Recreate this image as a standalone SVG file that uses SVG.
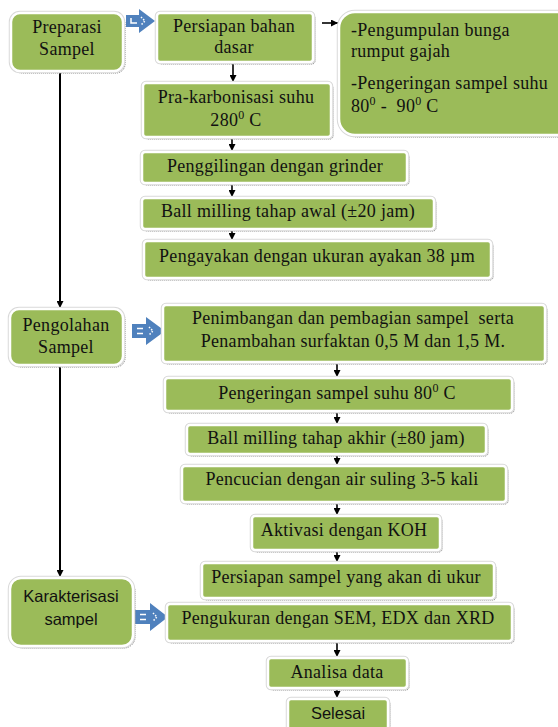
<svg xmlns="http://www.w3.org/2000/svg" width="558" height="727" viewBox="0 0 558 727">
<defs>
<style>
.sh{fill:none;stroke:#6f6f6f;stroke-width:1;stroke-dasharray:1 1}
.ol{fill:none;stroke:#d9d9d9;stroke-width:4.5}
.bx{fill:#9BBB59;stroke:#ffffff;stroke-width:2.5}
.t{font-family:'Liberation Serif','Times New Roman',serif;font-size:18px;letter-spacing:0.3px;fill:#111;text-anchor:middle}
.tl{font-family:'Liberation Serif','Times New Roman',serif;font-size:18px;letter-spacing:0.3px;fill:#111}
.s{font-family:'Liberation Sans',Arial,sans-serif;font-size:16.5px;fill:#111;text-anchor:middle}
.c{stroke:#000;stroke-width:1.6;fill:none;marker-end:url(#ah)}
.cl{stroke:#000;stroke-width:2;fill:none;marker-end:url(#ah)}
.ba{fill:#4F81BD}
.wm{stroke:#fff;stroke-width:1.5;fill:none}
.wd{stroke:#fff;stroke-width:1.5;fill:none;stroke-dasharray:1.5 1.5}
</style>
<marker id="ah" markerUnits="userSpaceOnUse" markerWidth="8" markerHeight="7" refX="7" refY="3.5" orient="auto">
<path d="M0,0 L7,3.5 L0,7 z" fill="#000"/>
</marker>
</defs>
<rect x="0" y="0" width="558" height="727" fill="#ffffff"/>

<g id="connectors">
<line class="c" x1="233" y1="63" x2="233" y2="82"/>
<line class="c" x1="232" y1="138" x2="232" y2="151"/>
<line class="c" x1="232" y1="184" x2="232" y2="197"/>
<line class="c" x1="232" y1="230" x2="232" y2="240"/>
<line class="cl" x1="60" y1="72" x2="60" y2="308"/>
<line class="cl" x1="60" y1="366" x2="60" y2="577"/>
<line class="c" x1="337" y1="363" x2="337" y2="377"/>
<line class="c" x1="337" y1="412" x2="337" y2="424"/>
<line class="c" x1="337" y1="455" x2="337" y2="465"/>
<line class="c" x1="337" y1="503" x2="337" y2="515"/>
<line class="c" x1="337" y1="551" x2="337" y2="562"/>
<line class="c" x1="337" y1="642" x2="337" y2="657"/>
<line class="c" x1="337" y1="689" x2="337" y2="698"/>
<line class="c" x1="322" y1="23" x2="338" y2="23"/>
<g id="blue1">
<polygon class="ba" points="126,15 139,15 139,9 155,21 139,33 139,27 126,27"/>
<path class="wm" d="M131,18 L131,23 L137,23"/>
<path class="wd" d="M141,17 L145,21 L141,25"/>
</g>
<g id="blue2">
<polygon class="ba" points="132,324 146,324 146,317 165,331 146,345 146,338 132,338"/>
<path class="wm" d="M137,328.5 L143,328.5 M137,333.5 L143,333.5"/>
<path class="wd" d="M149,327 L153,331 L149,335"/>
</g>
<g id="blue3">
<polygon class="ba" points="135,610 150,610 150,603 168,617 150,631 150,624 135,624"/>
<path class="wm" d="M140,614.5 L146,614.5 M140,619.5 L146,619.5"/>
<path class="wd" d="M153,613 L157,617 L153,621"/>
</g>
</g>

<g id="n-preparasi">
<rect class="sh" x="13" y="15" width="112" height="58" rx="9"/>
<rect class="ol" x="11" y="13" width="112" height="58" rx="9"/>
<rect class="bx" x="11" y="13" width="112" height="58" rx="9"/>
<text class="t" x="67" y="33">Preparasi</text>
<text class="t" x="67" y="55">Sampel</text>
</g>

<g id="n-persiapan-bahan">
<rect class="sh" x="159" y="15" width="156" height="49" rx="3"/>
<rect class="ol" x="157" y="13" width="156" height="49" rx="3"/>
<rect class="bx" x="157" y="13" width="156" height="49" rx="3"/>
<text class="t" x="234" y="32">Persiapan bahan</text>
<text class="t" x="234" y="53">dasar</text>
</g>

<g id="n-bahan-list">
<rect class="sh" x="341" y="14" width="240" height="123" rx="16"/>
<rect class="ol" x="339" y="12" width="240" height="123" rx="16"/>
<rect class="bx" x="339" y="12" width="240" height="123" rx="16"/>
<text class="tl" x="351" y="36">-Pengumpulan bunga</text>
<text class="tl" x="351" y="57">rumput gajah</text>
<text class="tl" x="351" y="89">-Pengeringan sampel suhu</text>
<text class="tl" x="351" y="112" xml:space="preserve">80<tspan font-size="12" dy="-7">0</tspan><tspan dy="7"> -  90</tspan><tspan font-size="12" dy="-7">0</tspan><tspan dy="7"> C</tspan></text>
</g>

<g id="n-prakarbonisasi">
<rect class="sh" x="145" y="85" width="188" height="54" rx="3"/>
<rect class="ol" x="143" y="83" width="188" height="54" rx="3"/>
<rect class="bx" x="143" y="83" width="188" height="54" rx="3"/>
<text class="t" x="236" y="103">Pra-karbonisasi suhu</text>
<text class="t" x="236" y="126">280<tspan font-size="12" dy="-7">0</tspan><tspan dy="7"> C</tspan></text>
</g>

<g id="n-penggilingan">
<rect class="sh" x="144" y="154" width="265" height="31" rx="3"/>
<rect class="ol" x="142" y="152" width="265" height="31" rx="3"/>
<rect class="bx" x="142" y="152" width="265" height="31" rx="3"/>
<text class="t" x="275" y="172">Penggilingan dengan grinder</text>
</g>

<g id="n-ballmill-awal">
<rect class="sh" x="144" y="200" width="292" height="31" rx="3"/>
<rect class="ol" x="142" y="198" width="292" height="31" rx="3"/>
<rect class="bx" x="142" y="198" width="292" height="31" rx="3"/>
<text class="t" x="288" y="217">Ball milling tahap awal (±20 jam)</text>
</g>

<g id="n-pengayakan">
<rect class="sh" x="146" y="243" width="347" height="37" rx="3"/>
<rect class="ol" x="144" y="241" width="347" height="37" rx="3"/>
<rect class="bx" x="144" y="241" width="347" height="37" rx="3"/>
<text class="t" x="317" y="262">Pengayakan dengan ukuran ayakan 38 µm</text>
</g>

<g id="n-pengolahan">
<rect class="sh" x="12" y="311" width="113" height="56" rx="9"/>
<rect class="ol" x="10" y="309" width="113" height="56" rx="9"/>
<rect class="bx" x="10" y="309" width="113" height="56" rx="9"/>
<text class="t" x="66" y="331">Pengolahan</text>
<text class="t" x="66" y="353">Sampel</text>
</g>

<g id="n-penimbangan">
<rect class="sh" x="165" y="307" width="382" height="57" rx="3"/>
<rect class="ol" x="163" y="305" width="382" height="57" rx="3"/>
<rect class="bx" x="163" y="305" width="382" height="57" rx="3"/>
<text class="t" x="353" y="324" xml:space="preserve">Penimbangan dan pembagian sampel  serta</text>
<text class="t" x="353" y="347">Penambahan surfaktan 0,5 M dan 1,5 M.</text>
</g>

<g id="n-pengeringan">
<rect class="sh" x="167" y="380" width="347" height="33" rx="3"/>
<rect class="ol" x="165" y="378" width="347" height="33" rx="3"/>
<rect class="bx" x="165" y="378" width="347" height="33" rx="3"/>
<text class="t" x="337" y="399">Pengeringan sampel suhu 80<tspan font-size="12" dy="-7">0</tspan><tspan dy="7"> C</tspan></text>
</g>

<g id="n-ballmill-akhir">
<rect class="sh" x="189" y="427" width="299" height="29" rx="3"/>
<rect class="ol" x="187" y="425" width="299" height="29" rx="3"/>
<rect class="bx" x="187" y="425" width="299" height="29" rx="3"/>
<text class="t" x="336" y="444">Ball milling tahap akhir (±80 jam)</text>
</g>

<g id="n-pencucian">
<rect class="sh" x="184" y="468" width="324" height="36" rx="3"/>
<rect class="ol" x="182" y="466" width="324" height="36" rx="3"/>
<rect class="bx" x="182" y="466" width="324" height="36" rx="3"/>
<text class="t" x="342" y="485">Pencucian dengan air suling 3-5 kali</text>
</g>

<g id="n-aktivasi">
<rect class="sh" x="254" y="518" width="188" height="34" rx="3"/>
<rect class="ol" x="252" y="516" width="188" height="34" rx="3"/>
<rect class="bx" x="252" y="516" width="188" height="34" rx="3"/>
<text class="t" x="344" y="536">Aktivasi dengan KOH</text>
</g>

<g id="n-persiapan-sampel">
<rect class="sh" x="204" y="565" width="292" height="35" rx="3"/>
<rect class="ol" x="202" y="563" width="292" height="35" rx="3"/>
<rect class="bx" x="202" y="563" width="292" height="35" rx="3"/>
<text class="t" x="346" y="583">Persiapan sampel yang akan di ukur</text>
</g>

<g id="n-karakterisasi">
<rect class="sh" x="12" y="580" width="123" height="68" rx="11"/>
<rect class="ol" x="10" y="578" width="123" height="68" rx="11"/>
<rect class="bx" x="10" y="578" width="123" height="68" rx="11"/>
<text class="s" x="71" y="602">Karakterisasi</text>
<text class="s" x="71" y="625">sampel</text>
</g>

<g id="n-pengukuran">
<rect class="sh" x="169" y="606" width="345" height="37" rx="3"/>
<rect class="ol" x="167" y="604" width="345" height="37" rx="3"/>
<rect class="bx" x="167" y="604" width="345" height="37" rx="3"/>
<text class="t" x="338" y="624">Pengukuran dengan SEM, EDX dan XRD</text>
</g>

<g id="n-analisa">
<rect class="sh" x="270" y="660" width="139" height="30" rx="3"/>
<rect class="ol" x="268" y="658" width="139" height="30" rx="3"/>
<rect class="bx" x="268" y="658" width="139" height="30" rx="3"/>
<text class="t" x="337" y="678">Analisa data</text>
</g>

<g id="n-selesai">
<rect class="sh" x="290" y="701" width="100" height="40" rx="3"/>
<rect class="ol" x="288" y="699" width="100" height="40" rx="3"/>
<rect class="bx" x="288" y="699" width="100" height="40" rx="3"/>
<text class="s" x="338" y="719">Selesai</text>
</g>
</svg>
